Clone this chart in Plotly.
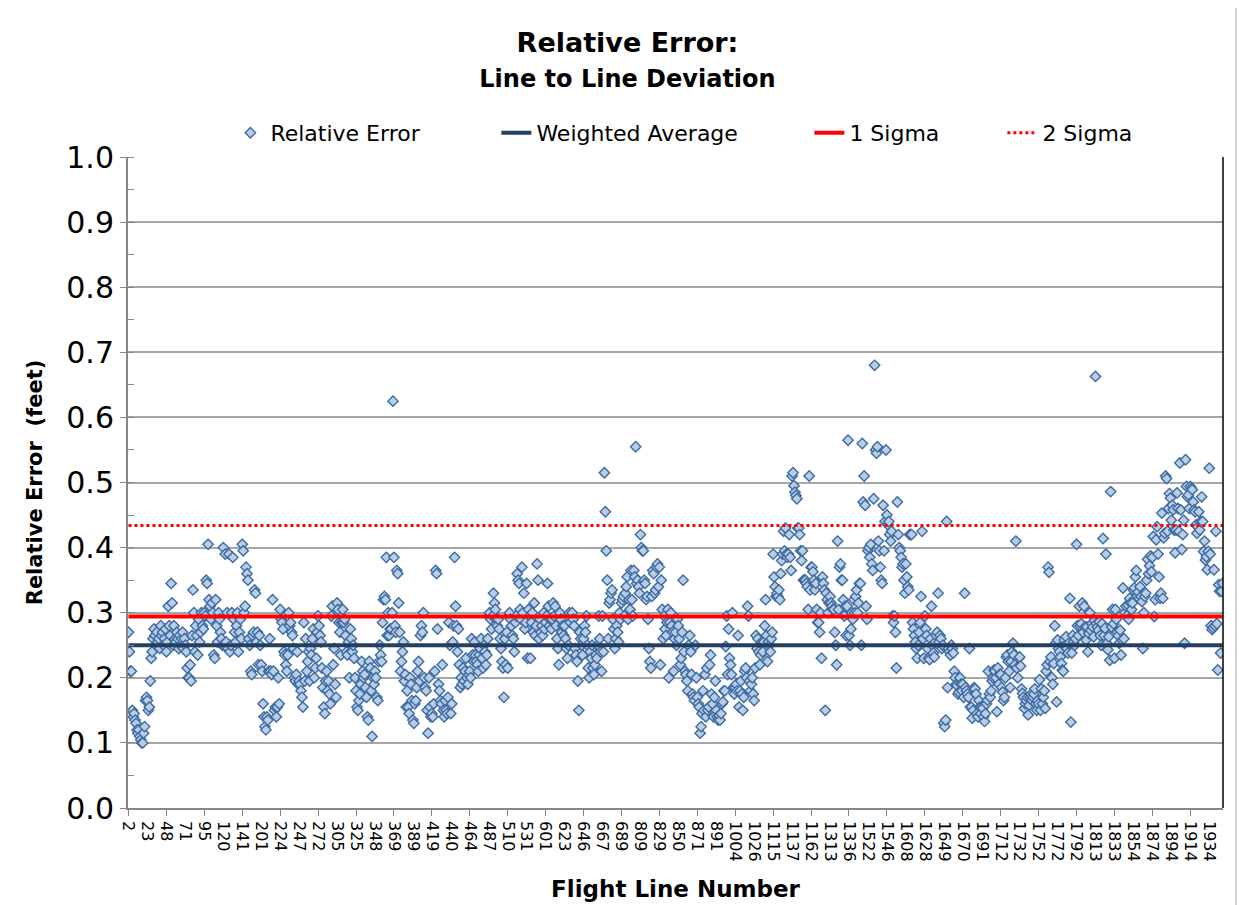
import plotly.graph_objects as go

# ---- data ----
tick_labels = ["2", "23", "48", "71", "95", "120", "141", "201", "224", "247", "272", "305", "325",
               "348", "369", "389", "419", "440", "464", "487", "510", "531", "601", "623", "646",
               "667", "689", "809", "829", "850", "871", "891", "1004", "1026", "1115", "1137",
               "1162", "1313", "1336", "1522", "1546", "1608", "1628", "1649", "1670", "1691",
               "1712", "1732", "1752", "1772", "1792", "1813", "1833", "1854", "1874", "1894",
               "1914", "1934"]

err_a = [0.27,0.24,0.21,0.21,0.15,0.14,0.145,0.135,0.13,0.12,0.115,0.12,0.11,0.105,0.10,0.10,0.115,0.125,0.165,0.17,
         0.165,0.15,0.155,0.195,0.23,0.24,0.26,0.275,0.265,0.25,0.27,0.255,0.26,0.245,0.28,0.265,0.27,0.25,0.26,0.275,
         0.24,0.255,0.31,0.28,0.265,0.345,0.315,0.25,0.28,0.26,0.255,0.27,0.26,0.245,0.265,0.25,0.26,0.27,0.245,0.26,
         0.25,0.24,0.215,0.2,0.2,0.22,0.195,0.265,0.335,0.3,0.24,0.28,0.265,0.235,0.29,0.255,0.27,0.3,0.28,0.275,
         0.3,0.295,0.35,0.345,0.405,0.32,0.31,0.29,0.315,0.3,0.235,0.23,0.32,0.28,0.255,0.3,0.29,0.27,0.26,0.25,
         0.4,0.25,0.39,0.255,0.3,0.245,0.39,0.24,0.25,0.3,0.385,0.29,0.27,0.255,0.28,0.3,0.24,0.27,0.29,0.26,
         0.405,0.395,0.3,0.31,0.37,0.36,0.35,0.26,0.25,0.21,0.205,0.265,0.27,0.335,0.33,0.255,0.27,0.22,0.265,0.25,
         0.22,0.21,0.16,0.14,0.125,0.12,0.14,0.135,0.21,0.26,0.21,0.205,0.32,0.21,0.15,0.155,0.14,0.155,0.2,0.16,
         0.305,0.29,0.285,0.275,0.24,0.235,0.22,0.21,0.235,0.3,0.28,0.285,0.27,0.265,0.245,0.2,0.195,0.205,0.24,0.19,
         0.195,0.19,0.18,0.17,0.155,0.285,0.195,0.26,0.21,0.225,0.24,0.195,0.245,0.235,0.26,0.275,0.2,0.215,0.23,0.27]

err_b = [0.295,0.28,0.265,0.255,0.215,0.185,0.155,0.145,0.195,0.21,0.18,0.195,0.175,0.16,0.295,0.31,0.22,0.245,0.19,0.17,
         0.315,0.305,0.285,0.27,0.235,0.285,0.305,0.285,0.29,0.265,0.24,0.235,0.255,0.2,0.275,0.26,0.24,0.25,0.23,0.2,
         0.18,0.155,0.15,0.165,0.175,0.19,0.225,0.21,0.2,0.205,0.185,0.17,0.14,0.135,0.225,0.215,0.18,0.11,0.2,0.19,
         0.21,0.2,0.17,0.165,0.225,0.25,0.235,0.225,0.285,0.32,0.325,0.32,0.385,0.265,0.3,0.265,0.275,0.275,0.3,0.625,
         0.385,0.28,0.27,0.365,0.36,0.315,0.27,0.21,0.225,0.24,0.255,0.195,0.205,0.155,0.18,0.155,0.145,0.2,0.19,0.165,
         0.135,0.13,0.16,0.165,0.185,0.21,0.225,0.195,0.265,0.28,0.27,0.3,0.2,0.185,0.18,0.15,0.115,0.2,0.155,0.14,
         0.145,0.14,0.16,0.21,0.365,0.36,0.275,0.19,0.18,0.165,0.16,0.22,0.15,0.14,0.165,0.15,0.145,0.17,0.285,0.25,
         0.145,0.16,0.255,0.28,0.385,0.31,0.28,0.24,0.275,0.22,0.185,0.2,0.19,0.215,0.195,0.21,0.23,0.2,0.19,0.205,
         0.21,0.2,0.26,0.235,0.225,0.255,0.235,0.225,0.22,0.21,0.235,0.245,0.26,0.23,0.215,0.25,0.24,0.22,0.235,0.26,
         0.295,0.3,0.29,0.275,0.295,0.33,0.315,0.305,0.29,0.28,0.29,0.275,0.26,0.245,0.225,0.215,0.17,0.26,0.22,0.27]

err_c = [0.215,0.295,0.3,0.29,0.28,0.265,0.26,0.24,0.285,0.295,0.36,0.35,0.345,0.305,0.29,0.37,0.3,0.33,0.275,0.285,
         0.345,0.23,0.305,0.295,0.23,0.285,0.3,0.27,0.315,0.265,0.28,0.375,0.35,0.26,0.29,0.27,0.28,0.265,0.3,0.275,
         0.285,0.295,0.345,0.31,0.28,0.29,0.275,0.29,0.315,0.295,0.31,0.28,0.26,0.245,0.22,0.3,0.29,0.27,0.28,0.265,
         0.28,0.26,0.245,0.23,0.25,0.3,0.285,0.295,0.3,0.29,0.28,0.245,0.235,0.225,0.195,0.15,0.27,0.26,0.25,0.235,
         0.26,0.28,0.27,0.295,0.25,0.215,0.2,0.24,0.23,0.25,0.215,0.205,0.22,0.235,0.23,0.25,0.295,0.26,0.24,0.21,
         0.295,0.24,0.515,0.455,0.395,0.35,0.26,0.315,0.32,0.33,0.335,0.29,0.275,0.245,0.26,0.28,0.27,0.255,0.3,0.29,
         0.315,0.32,0.325,0.295,0.33,0.34,0.355,0.29,0.32,0.305,0.365,0.32,0.295,0.365,0.355,0.555,0.345,0.35,0.34,0.33,
         0.42,0.4,0.395,0.395,0.35,0.345,0.32,0.325,0.29,0.245,0.225,0.215,0.325,0.365,0.36,0.33,0.335,0.37,0.375,0.34,
         0.37,0.22,0.35,0.305,0.26,0.295,0.275,0.265,0.285,0.305,0.2,0.285,0.3,0.28,0.27,0.21,0.26,0.27,0.25,0.29,
         0.28,0.26,0.22,0.23,0.27,0.35,0.24,0.21,0.205,0.195,0.18,0.25,0.265,0.24,0.205,0.175,0.17,0.165,0.25,0.2]

err_d = [0.17,0.16,0.155,0.115,0.125,0.145,0.18,0.15,0.205,0.14,0.215,0.15,0.155,0.22,0.235,0.175,0.16,0.14,0.17,0.195,
         0.15,0.14,0.135,0.142,0.135,0.145,0.16,0.163,0.18,0.18,0.248,0.295,0.205,0.275,0.23,0.22,0.205,0.3,0.185,0.175,
         0.185,0.19,0.18,0.265,0.155,0.18,0.195,0.175,0.15,0.17,0.21,0.215,0.2,0.31,0.295,0.195,0.18,0.19,0.2,0.175,
         0.165,0.215,0.265,0.245,0.26,0.24,0.22,0.235,0.255,0.24,0.255,0.28,0.32,0.265,0.225,0.255,0.25,0.24,0.26,0.27,
         0.39,0.355,0.34,0.325,0.33,0.325,0.335,0.32,0.36,0.38,0.39,0.425,0.395,0.43,0.39,0.385,0.39,0.42,0.385,0.365,
         0.51,0.515,0.495,0.485,0.48,0.475,0.43,0.43,0.42,0.395,0.38,0.395,0.35,0.35,0.35,0.345,0.34,0.305,0.51,0.335,
         0.37,0.37,0.363,0.35,0.335,0.345,0.305,0.285,0.285,0.27,0.3,0.23,0.355,0.345,0.335,0.15,0.33,0.32,0.3,0.315,
         0.325,0.315,0.31,0.305,0.305,0.27,0.25,0.22,0.41,0.305,0.37,0.375,0.35,0.35,0.32,0.295,0.31,0.265,0.31,0.565,
         0.265,0.25,0.275,0.3,0.29,0.32,0.3,0.325,0.335,0.3,0.315,0.345,0.345,0.25,0.56,0.47,0.51,0.465,0.31,0.29,
         0.395,0.4,0.385,0.405,0.375,0.365,0.475,0.68,0.55,0.545,0.555,0.41,0.395,0.37,0.35,0.345,0.465,0.395,0.44,0.55]

err_e = [0.45,0.435,0.44,0.42,0.41,0.425,0.295,0.285,0.295,0.27,0.215,0.47,0.42,0.4,0.395,0.385,0.37,0.375,0.35,0.33,
         0.375,0.355,0.34,0.335,0.42,0.42,0.42,0.285,0.275,0.265,0.255,0.245,0.23,0.25,0.27,0.285,0.325,0.425,0.26,0.23,
         0.295,0.275,0.265,0.245,0.23,0.228,0.26,0.31,0.25,0.238,0.232,0.255,0.265,0.27,0.33,0.255,0.265,0.26,0.245,0.25,
         0.13,0.125,0.135,0.44,0.185,0.245,0.24,0.235,0.25,0.245,0.238,0.21,0.2,0.19,0.188,0.175,0.178,0.2,0.19,0.18,
         0.19,0.17,0.33,0.185,0.18,0.175,0.17,0.245,0.155,0.155,0.138,0.15,0.185,0.183,0.175,0.145,0.14,0.165,0.155,0.145,
         0.155,0.153,0.14,0.133,0.145,0.16,0.166,0.21,0.175,0.17,0.18,0.195,0.2,0.212,0.21,0.2,0.148,0.215,0.19,0.205,
         0.205,0.185,0.178,0.165,0.17,0.2,0.232,0.235,0.225,0.21,0.185,0.225,0.24,0.253,0.235,0.22,0.41,0.215,0.2,0.23,
         0.232,0.218,0.183,0.176,0.17,0.153,0.16,0.165,0.17,0.143,0.158,0.17,0.175,0.165,0.17,0.175,0.183,0.16,0.15,0.165,
         0.16,0.197,0.15,0.183,0.16,0.17,0.18,0.153,0.21,0.22,0.37,0.362,0.225,0.232,0.2,0.19,0.222,0.28,0.253,0.163,
         0.258,0.245,0.24,0.232,0.222,0.212,0.21,0.258,0.25,0.263,0.245,0.238,0.253,0.322,0.132,0.238,0.265,0.255,0.25,0.26]

err_f = [0.405,0.28,0.265,0.31,0.28,0.283,0.315,0.27,0.31,0.278,0.258,0.278,0.24,0.268,0.3,0.273,0.283,0.278,0.263,0.288,
         0.663,0.283,0.278,0.273,0.286,0.265,0.25,0.283,0.414,0.265,0.276,0.39,0.253,0.243,0.263,0.227,0.486,0.278,0.305,0.283,
         0.23,0.305,0.29,0.27,0.265,0.253,0.273,0.235,0.258,0.338,0.26,0.3,0.31,0.295,0.312,0.29,0.322,0.315,0.305,0.315,
         0.335,0.338,0.355,0.365,0.325,0.332,0.322,0.34,0.325,0.317,0.245,0.3,0.325,0.33,0.35,0.382,0.36,0.372,0.387,0.363,
         0.385,0.417,0.294,0.32,0.412,0.432,0.39,0.355,0.322,0.33,0.453,0.322,0.415,0.422,0.51,0.506,0.425,0.46,0.483,0.476,
         0.442,0.465,0.458,0.427,0.392,0.427,0.484,0.46,0.425,0.53,0.458,0.397,0.42,0.442,0.253,0.535,0.494,0.478,0.481,0.46,
         0.494,0.491,0.489,0.47,0.458,0.455,0.435,0.422,0.432,0.455,0.427,0.44,0.478,0.44,0.394,0.41,0.381,0.386,0.366,0.394,
         0.522,0.39,0.28,0.274,0.277,0.366,0.28,0.425,0.283,0.212,0.343,0.333,0.238,0.333,0.345]

weighted_average = 0.25
sigma_1 = 0.294
sigma_2 = 0.434
label_interval = 20
tick_mark_interval = 40

# ---- build ----
relative_error = err_a + err_b + err_c + err_d + err_e + err_f
n = len(relative_error)
idx = list(range(n))

FONT = "DejaVu Sans, Verdana, sans-serif"

fig = go.Figure()
fig.add_trace(go.Scatter(
    x=idx, y=relative_error, mode="markers", name="Relative Error", legendwidth=221,
    marker=dict(symbol="diamond", size=8, color="#b9cde5",
                line=dict(color="#3c6aa2", width=1.4)),
))
fig.add_trace(go.Scatter(
    x=idx, y=[weighted_average] * n, mode="lines", name="Weighted Average", legendwidth=268,
    line=dict(color="#243f60", width=4),
))
fig.add_trace(go.Scatter(
    x=idx, y=[sigma_1] * n, mode="lines", name="1 Sigma", legendwidth=148,
    line=dict(color="#ff0000", width=4),
))
fig.add_trace(go.Scatter(
    x=idx, y=[sigma_2] * n, mode="lines", name="2 Sigma", legendwidth=90,
    line=dict(color="#ff0000", width=3, dash="dot"),
))

label_pos = [i * label_interval + 0.01 for i in range(len(tick_labels))]
mark_pos = list(range(0, n, tick_mark_interval))

# page body adds an 8px offset, so the figure is 8px smaller and margins shifted
fig.update_layout(
    width=1239, height=897,
    margin=dict(l=120, r=24, t=149, b=97),
    paper_bgcolor="white", plot_bgcolor="white",
    font=dict(family=FONT, color="black"),
    title=dict(
        text="<b>Relative Error:</b><br><b><span style='font-size:24px'>Line to Line Deviation</span></b>",
        x=0.5, xanchor="center", xref="container",
        y=0.951, yanchor="top", yref="container",
        font=dict(size=27, family=FONT, color="black"),
    ),
    legend=dict(
        orientation="h", x=0.0935, xanchor="left", y=1.037, yanchor="middle",
        font=dict(size=22, family=FONT, color="black"),
        bgcolor="rgba(0,0,0,0)",
    ),
    showlegend=True,
)

fig.update_xaxes(
    range=[-0.5, n - 0.5], automargin=False,
    tickmode="array", tickvals=label_pos, ticktext=tick_labels,
    tickangle=90, ticks="outside", ticklen=8, tickcolor="rgba(0,0,0,0)",
    tickfont=dict(size=16, family=FONT, color="black"),
    showgrid=False, zeroline=False,
    showline=True, linecolor="#868686", linewidth=1.5,
    minor=dict(tickmode="array", tickvals=mark_pos, ticks="outside", ticklen=6,
               tickcolor="#868686", tickwidth=1, showgrid=False),
    title=dict(text="<b>Flight Line Number</b>", font=dict(size=23, family=FONT, color="black"),
               standoff=20),
)
fig.update_yaxes(
    range=[0, 1.0], tickmode="linear", tick0=0, dtick=0.1, tickformat=".1f", automargin=False,
    tickfont=dict(size=30, family=FONT, color="black"),
    showgrid=True, gridcolor="#a6a6a6", gridwidth=1.5, zeroline=False,
    showline=True, linecolor="#868686", linewidth=2,
    ticks="outside", ticklen=6, tickcolor="#868686",
    minor=dict(dtick=0.05, ticks="inside", ticklen=6, tickcolor="#868686", showgrid=False),
    title=dict(text="<b>Relative Error  (feet)</b>", font=dict(size=21, family=FONT, color="black"),
               standoff=18),
)

# right edge of the plot area
fig.add_shape(type="line", xref="paper", yref="paper", x0=1, x1=1, y0=0, y1=1,
              line=dict(color="black", width=1.5))
# chart-area frame (top and right edges)
fig.add_shape(type="line", xref="paper", yref="paper", x0=-0.12, x1=1.0119, y0=1.238, y1=1.238,
              line=dict(color="#a6a6a6", width=1))
fig.add_shape(type="line", xref="paper", yref="paper", x0=1.0119, x1=1.0119, y0=1.238, y1=-0.16,
              line=dict(color="#a6a6a6", width=1))

fig.write_html("out.html")
